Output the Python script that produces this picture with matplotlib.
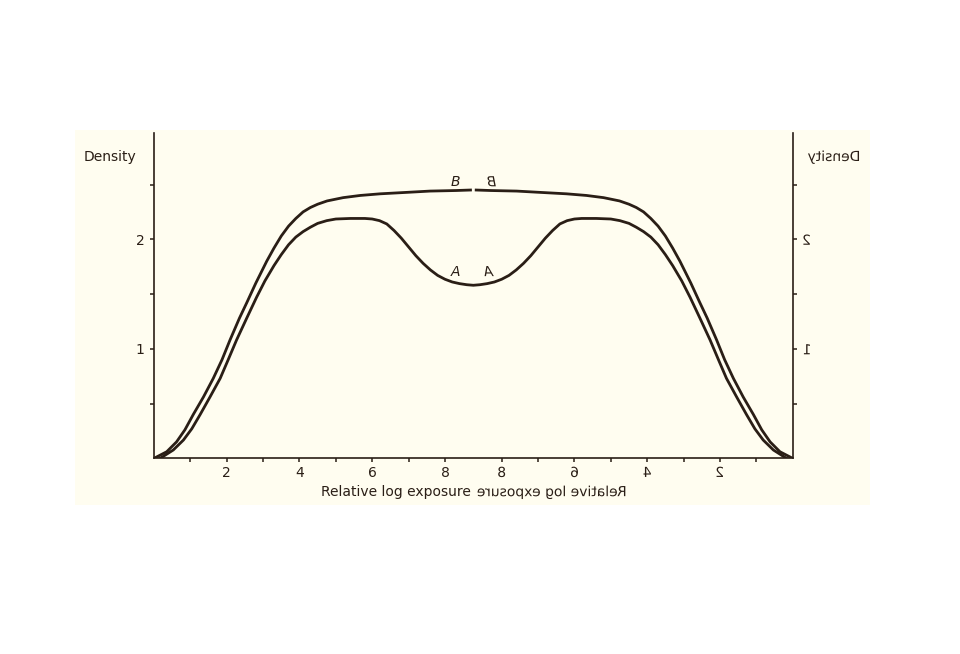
"""
Mirrored characteristic curves (density vs relative log exposure).
The right half is the mirror image of the left, text included.
"""

import numpy as np
import matplotlib
matplotlib.use("Agg")
import matplotlib.pyplot as plt
from matplotlib.patches import Rectangle
from matplotlib.patheffects import AbstractPathEffect
from matplotlib.transforms import Affine2D


# ============================================================
# Data (left half)
# ============================================================

centre = 8.78  # log exposure where the two halves meet

curve_b_x = [0.0, 0.35, 0.62, 0.85, 1.08, 1.36, 1.63, 1.87, 2.09, 2.35,
             2.55, 2.80, 3.10, 3.30, 3.50, 3.70, 3.90, 4.10, 4.30, 4.50,
             4.76, 5.20, 5.67, 6.22, 7.05, 7.59, 8.30, 8.74]
curve_b_y = [0.0, 0.06, 0.15, 0.26, 0.40, 0.56, 0.73, 0.90, 1.08, 1.28,
             1.42, 1.60, 1.80, 1.92, 2.03, 2.12, 2.19, 2.25, 2.29, 2.32,
             2.35, 2.38, 2.40, 2.415, 2.43, 2.44, 2.445, 2.45]

curve_a_x = [0.17, 0.53, 0.81, 1.04, 1.27, 1.54, 1.82, 2.04, 2.27, 2.55,
             2.82, 3.05, 3.30, 3.50, 3.70, 3.90, 4.10, 4.30, 4.50, 4.75,
             5.00, 5.40, 5.80, 6.00, 6.20, 6.40, 6.60, 6.80, 7.00, 7.20,
             7.40, 7.60, 7.80, 8.00, 8.20, 8.40, 8.60, 8.78]
curve_a_y = [0.0, 0.076, 0.167, 0.27, 0.40, 0.56, 0.73, 0.90, 1.08, 1.28,
             1.47, 1.62, 1.76, 1.86, 1.95, 2.02, 2.07, 2.11, 2.145, 2.17,
             2.185, 2.19, 2.19, 2.185, 2.17, 2.14, 2.08, 2.01, 1.93, 1.85,
             1.78, 1.72, 1.67, 1.635, 1.61, 1.595, 1.585, 1.58]

x_tick_values = [1, 2, 3, 4, 5, 6, 7, 8]
x_tick_labels = ["", "2", "", "4", "", "6", "", "8"]
y_tick_values = [0.5, 1.0, 1.5, 2.0, 2.5]
y_tick_labels = ["", "1", "", "2", ""]

x_label = "Relative log exposure"
y_label = "Density"

INK = "#2a1e16"
PAPER = "#fffdf0"


# ============================================================
# Mirror effect: draws a text horizontally flipped in place
# ============================================================

class Mirror(AbstractPathEffect):
    def draw_path(self, renderer, gc, tpath, affine, rgbFace=None):
        ext = tpath.get_extents()
        flip = Affine2D().scale(-1, 1).translate(ext.x0 + ext.x1, 0)
        renderer.draw_path(gc, tpath, flip + affine, rgbFace)


def main() -> None:
    plt.rcParams["font.family"] = ["DejaVu Sans"]

    fig = plt.figure(figsize=(9.6, 6.54), dpi=100)
    fig.patches.append(Rectangle((75 / 960, 1 - 505 / 654),
                                 795 / 960, 375 / 654,
                                 transform=fig.transFigure,
                                 facecolor=PAPER, edgecolor="none", zorder=-5))

    ax = fig.add_axes([0.1604, 0.2992, 0.6653, 0.4974])
    ax.set_facecolor("none")

    bx = np.array(curve_b_x)
    by = np.array(curve_b_y)
    ax_ = np.array(curve_a_x)
    ay = np.array(curve_a_y)

    line_kw = dict(color=INK, lw=2.0, solid_joinstyle="round")

    # B: two halves with a small gap at the centre
    ax.plot(bx, by, solid_capstyle="butt", **line_kw)
    ax.plot(2 * centre - bx, by, solid_capstyle="butt", **line_kw)

    # A: one continuous curve
    a_full_x = np.concatenate([ax_, (2 * centre - ax_)[::-1][1:]])
    a_full_y = np.concatenate([ay, ay[::-1][1:]])
    ax.plot(a_full_x, a_full_y, **line_kw)

    ax.set_xlim(0, 2 * centre)
    ax.set_ylim(0, 2.97)

    # spines
    for side in ["left", "right", "bottom"]:
        ax.spines[side].set_color(INK)
        ax.spines[side].set_linewidth(1.2)
    ax.spines["top"].set_visible(False)

    # x ticks: left half normal, right half mirrored
    xt = list(x_tick_values) + [2 * centre - v for v in x_tick_values[::-1]]
    xl = list(x_tick_labels) + list(x_tick_labels[::-1])
    ax.set_xticks(xt, xl)
    ax.tick_params(axis="x", direction="out", length=3, width=1.1,
                   color=INK, labelcolor=INK, labelsize=10, pad=2.5)
    for tick in ax.xaxis.get_major_ticks()[len(x_tick_values):]:
        tick.label1.set_path_effects([Mirror()])

    # y ticks on both sides, right labels mirrored
    ax.set_yticks(y_tick_values, y_tick_labels)
    ax.tick_params(axis="y", direction="out", length=3, width=1.1,
                   color=INK, labelcolor=INK, labelsize=10, pad=4,
                   left=True, right=True, labelleft=True, labelright=True)
    for tick in ax.yaxis.get_major_ticks():
        tick.label2.set_path_effects([Mirror()])

    # axis titles
    tr = ax.get_xaxis_transform()
    ax.text(centre - 0.08, -0.104, x_label, transform=tr, ha="right",
            va="center", fontsize=10, color=INK)
    ax.text(centre + 0.08, -0.104, x_label, transform=tr, ha="left",
            va="center", fontsize=10, color=INK, path_effects=[Mirror()])

    fig.text(110 / 960, 1 - 157 / 654, y_label, ha="center", va="center",
             fontsize=10, color=INK)
    fig.text(833 / 960, 1 - 157 / 654, y_label, ha="center", va="center",
             fontsize=10, color=INK, path_effects=[Mirror()])

    # curve labels
    ax.text(8.28, 2.52, "B", ha="center", va="center", fontsize=10,
            style="italic", color=INK)
    ax.text(9.29, 2.52, "B", ha="center", va="center", fontsize=10,
            style="italic", color=INK, path_effects=[Mirror()])
    ax.text(8.30, 1.70, "A", ha="center", va="center", fontsize=10,
            style="italic", color=INK)
    ax.text(9.24, 1.70, "A", ha="center", va="center", fontsize=10,
            style="italic", color=INK, path_effects=[Mirror()])

    fig.savefig("out.png", dpi=100, facecolor="white")


if __name__ == "__main__":
    main()
